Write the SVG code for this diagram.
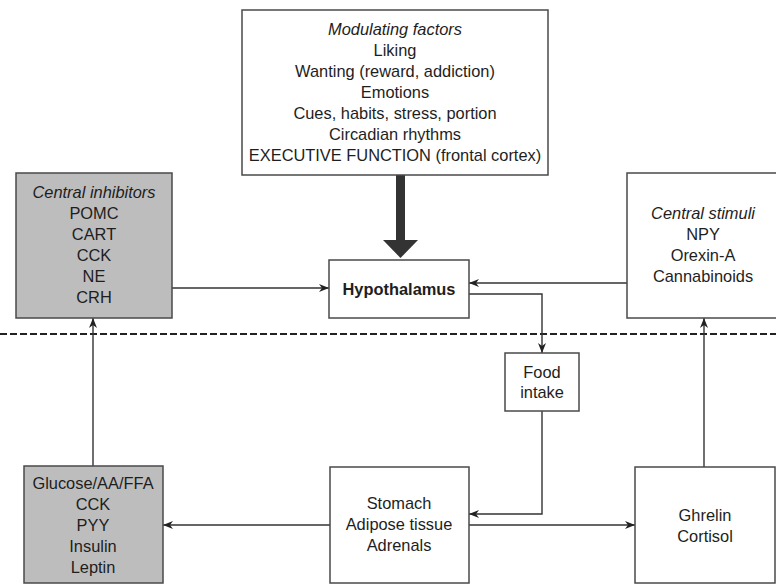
<svg xmlns="http://www.w3.org/2000/svg" width="776" height="584" viewBox="0 0 776 584">
<style>
.box{fill:#ffffff;stroke:#4a4a4a;stroke-width:1.5}
.gray{fill:#bdbdbd;stroke:#4a4a4a;stroke-width:1.5}
text{font-family:"Liberation Sans",Arial,sans-serif;font-size:16.4px;fill:#1e1e1e;text-anchor:middle}
.it{font-style:italic}
.b{font-weight:bold}
.conn{fill:none;stroke:#333;stroke-width:1.4}
</style>
<defs>
<marker id="ah" markerUnits="userSpaceOnUse" markerWidth="10" markerHeight="8" refX="10" refY="4" orient="auto">
<path d="M0,0 L10,4 L0,8 L3,4 z" fill="#222"/>
</marker>
</defs>
<rect width="776" height="584" fill="#ffffff"/>
<g id="connectors">
<line x1="0" y1="334" x2="776" y2="334" stroke="#222" stroke-width="2" stroke-dasharray="7 3"/>
<path class="conn" d="M172,288 H329" marker-end="url(#ah)"/>
<path class="conn" d="M627,283 H469" marker-end="url(#ah)"/>
<path class="conn" d="M469,294 H542 V353" marker-end="url(#ah)"/>
<path class="conn" d="M542,411 V514 H469" marker-end="url(#ah)"/>
<path class="conn" d="M330,525 H163" marker-end="url(#ah)"/>
<path class="conn" d="M469,525 H635" marker-end="url(#ah)"/>
<path class="conn" d="M93,466 V318" marker-end="url(#ah)"/>
<path class="conn" d="M704,467 V318" marker-end="url(#ah)"/>
<rect x="396" y="175" width="9" height="66" fill="#333"/>
<polygon points="383,240 418,240 400.5,258" fill="#333"/>
</g>
<g id="modulating">
<rect class="box" x="242" y="10" width="306" height="165"/>
<text x="395" y="35" class="it">Modulating factors</text>
<text x="395" y="56">Liking</text>
<text x="395" y="77">Wanting (reward, addiction)</text>
<text x="395" y="98">Emotions</text>
<text x="395" y="119">Cues, habits, stress, portion</text>
<text x="395" y="140">Circadian rhythms</text>
<text x="395" y="161">EXECUTIVE FUNCTION (frontal cortex)</text>
</g>
<g id="inhibitors">
<rect class="gray" x="16" y="173" width="156" height="145"/>
<text x="94" y="198" class="it">Central inhibitors</text>
<text x="94" y="219">POMC</text>
<text x="94" y="240">CART</text>
<text x="94" y="261">CCK</text>
<text x="94" y="282">NE</text>
<text x="94" y="303">CRH</text>
</g>
<g id="hypothalamus">
<rect class="box" x="329" y="260" width="140" height="58"/>
<text x="399" y="295" class="b">Hypothalamus</text>
</g>
<g id="stimuli">
<rect class="box" x="627" y="173" width="160" height="145"/>
<text x="703" y="219" class="it">Central stimuli</text>
<text x="703" y="240">NPY</text>
<text x="703" y="261">Orexin-A</text>
<text x="703" y="282">Cannabinoids</text>
</g>
<g id="food">
<rect class="box" x="505" y="353" width="74" height="58"/>
<text x="542" y="378">Food</text>
<text x="542" y="398">intake</text>
</g>
<g id="peripheral">
<rect class="gray" x="24" y="466" width="139" height="117"/>
<text x="93" y="489">Glucose/AA/FFA</text>
<text x="93" y="510">CCK</text>
<text x="93" y="531">PYY</text>
<text x="93" y="552">Insulin</text>
<text x="93" y="573">Leptin</text>
</g>
<g id="stomach">
<rect class="box" x="330" y="467" width="139" height="116"/>
<text x="399" y="509">Stomach</text>
<text x="399" y="530">Adipose tissue</text>
<text x="399" y="551">Adrenals</text>
</g>
<g id="ghrelin">
<rect class="box" x="635" y="467" width="140" height="116"/>
<text x="705" y="521">Ghrelin</text>
<text x="705" y="542">Cortisol</text>
</g>
</svg>
